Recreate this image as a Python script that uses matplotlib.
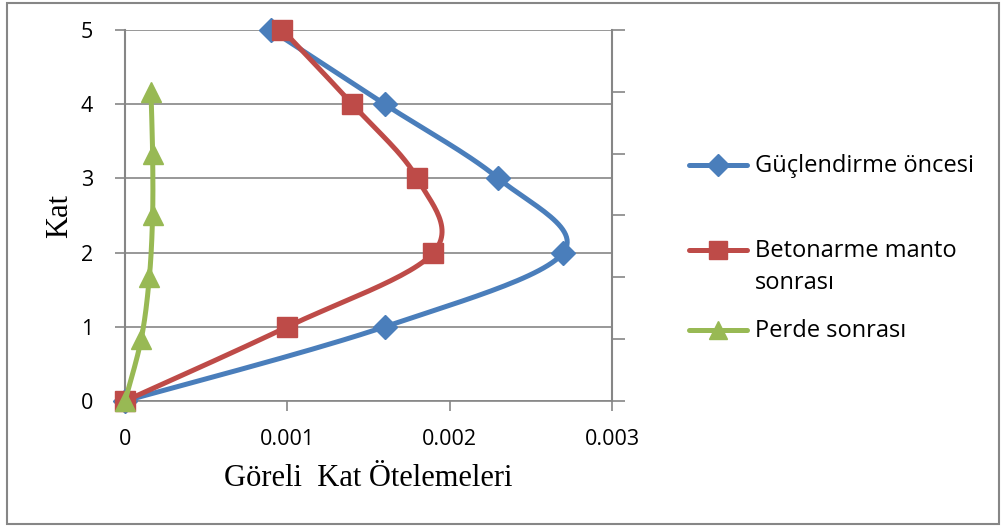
import numpy as np
import matplotlib.pyplot as plt
from matplotlib.lines import Line2D
from matplotlib.patches import Rectangle

# floor numbers and storey drifts
kat = [0, 1, 2, 3, 4, 5]
guclendirme_oncesi = [0, 0.0016, 0.0027, 0.0023, 0.0016, 0.0009]
betonarme_manto = [0, 0.001, 0.0019, 0.0018, 0.0014, 0.00097]
perde_sonrasi = [0, 0.0001, 0.00015, 0.00017, 0.00017, 0.00016]

x_ticks = [0, 0.001, 0.002, 0.003]
x_tick_labels = ["0", "0.001", "0.002", "0.003"]
y_ticks = [0, 1, 2, 3, 4, 5]

series_names = ["Güçlendirme öncesi", "Betonarme manto\nsonrası", "Perde sonrası"]
colors = ["#4A7EBB", "#BE4B48", "#98B954"]
markers = ["D", "s", "^"]
msizes = [12, 15, 15]


def smooth(xs, ys, n=30):
    # Excel style smoothed line: cubic bezier through the points
    p = np.column_stack([xs, ys]).astype(float)
    p = np.vstack([p[0], p, p[-1]])
    out = []
    t = np.linspace(0, 1, n)[:, None]
    for i in range(1, len(p) - 2):
        p0, p1, p2, p3 = p[i - 1], p[i], p[i + 1], p[i + 2]
        c1 = p1 + (p2 - p0) / 6
        c2 = p2 - (p3 - p1) / 6
        seg = ((1 - t) ** 3) * p1 + 3 * ((1 - t) ** 2) * t * c1 + 3 * (1 - t) * t ** 2 * c2 + t ** 3 * p2
        out.append(seg)
    seg = np.vstack(out)
    return seg[:, 0], seg[:, 1]


fig = plt.figure(figsize=(10.02, 5.27), dpi=100)
ax = fig.add_axes([125 / 1002, 1 - 401 / 527, (612 - 125) / 1002, (401 - 30) / 527])
ax2 = ax.twinx()

grey = "#868686"
tick_font = dict(family="Open Sans", size=15.5)
lw = 3.6

# primary axis: first two series
for ys, col, mk, ms in zip([guclendirme_oncesi, betonarme_manto], colors[:2], markers[:2], msizes[:2]):
    sx, sy = smooth(ys, kat)
    ax.plot(sx, sy, color=col, lw=lw, solid_capstyle="round", zorder=3)
    ax.plot(ys, kat, ls="none", marker=mk, ms=ms, color=col, zorder=4, clip_on=False)

# secondary axis: wall retrofit series
sx, sy = smooth(perde_sonrasi, kat)
ax2.plot(sx, sy, color=colors[2], lw=lw, solid_capstyle="round", zorder=3)
ax2.plot(perde_sonrasi, kat, ls="none", marker=markers[2], ms=msizes[2], color=colors[2],
         zorder=4, clip_on=False)

ax.set_xlim(0, 0.003)
ax.set_ylim(0, 5)
ax2.set_ylim(0, 6)
ax.set_xticks(x_ticks)
ax.set_xticklabels(x_tick_labels, **tick_font)
ax.set_yticks(y_ticks)
ax.set_yticklabels([str(v) for v in y_ticks], **tick_font)
ax2.set_yticks(range(7))
ax2.set_yticklabels([])

ax.grid(axis="y", color=grey, lw=1.2)
ax.set_axisbelow(True)
for a in (ax, ax2):
    for s in a.spines.values():
        s.set_visible(False)
ax.spines["left"].set_visible(True)
ax.spines["left"].set_color(grey)
ax.spines["left"].set_linewidth(1.5)
ax.spines["bottom"].set_visible(True)
ax.spines["bottom"].set_color(grey)
ax.spines["bottom"].set_linewidth(1.2)
ax2.spines["right"].set_visible(True)
ax2.spines["right"].set_color(grey)
ax2.spines["right"].set_linewidth(1.5)
ax.tick_params(axis="both", direction="out", color=grey, width=1.2, length=7)
ax.tick_params(axis="x", pad=13)
ax.tick_params(axis="y", pad=16)
ax2.tick_params(axis="y", direction="out", color=grey, width=1.2, length=9)

ax.set_xlabel("Göreli  Kat Ötelemeleri", family="Liberation Serif", size=22, labelpad=10)
ax.set_ylabel("Kat", family="Liberation Serif", size=22, labelpad=5)

# legend drawn by hand
leg_y = [165, 250, 330]
for name, col, mk, ms, yy in zip(series_names, colors, markers, msizes, leg_y):
    fy = 1 - yy / 527
    fig.add_artist(Line2D([689 / 1002, 747 / 1002], [fy, fy], color=col, lw=lw,
                          solid_capstyle="round", transform=fig.transFigure))
    fig.add_artist(Line2D([718 / 1002], [fy], marker=mk, ms=ms * 0.9, color=col, ls="none",
                          transform=fig.transFigure))
    fig.text(755 / 1002, 1 - (yy - 11) / 527, name, family="Open Sans", size=17, va="top",
             linespacing=1.45)

# outer chart border
fig.add_artist(Rectangle((7 / 1002, 1 - 524 / 527), 992 / 1002, 521 / 527, fill=False,
                         edgecolor=grey, lw=1.5, transform=fig.transFigure))

fig.savefig("out.png", dpi=100)
